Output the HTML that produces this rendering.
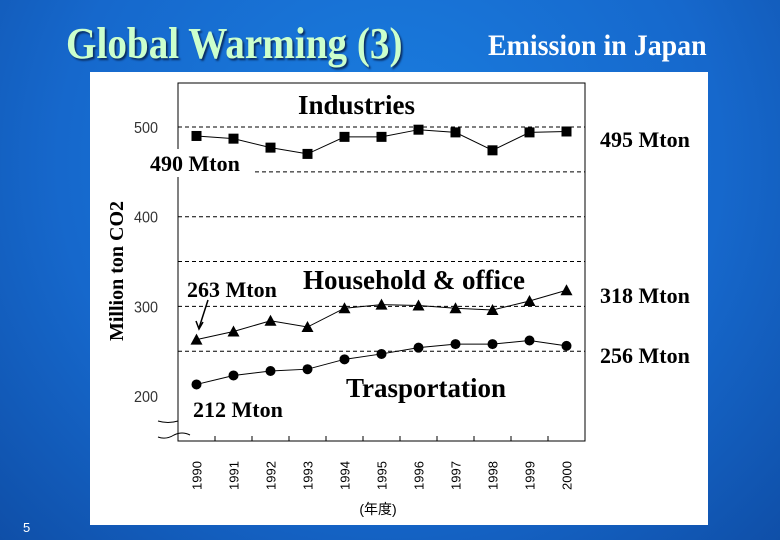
<!DOCTYPE html>
<html><head><meta charset="utf-8"><style>
body{margin:0;width:780px;height:540px;overflow:hidden;background:radial-gradient(ellipse at 50% 30%,#1a7ee0 0%,#1668cc 60%,#0f4fa8 100%);font-family:"Liberation Serif",serif;}
.t{position:absolute;white-space:nowrap}
</style></head><body>
<div class="t" style="left:66px;top:20px;font-size:44px;line-height:48px;font-weight:bold;color:#ccffcc;text-shadow:2px 2px 2px #0a2d60;transform:scaleX(0.89);transform-origin:left">Global Warming (3)</div>
<div class="t" style="left:488px;top:29px;font-size:30px;line-height:34px;font-weight:bold;color:#fff;transform:scaleX(0.93);transform-origin:left">Emission in Japan</div>
<div class="t" style="left:23px;top:520px;font-size:13px;color:#fff;font-family:'Liberation Sans',sans-serif">5</div>
<svg width="780" height="540" style="position:absolute;left:0;top:0" id="chart">
<rect x="90" y="72" width="618" height="453" fill="#fff"/>
<g id="grid"></g><g id="series"></g><g id="labels"></g>
</svg>
<script>
const years=["1990","1991","1992","1993","1994","1995","1996","1997","1998","1999","2000"];
const industries=[490,487,477,470,489,489,497,494,474,494,495];
const household=[263,272,284,277,298,302,301,298,296,306,318];
const transport=[213,223,228,230,241,247,254,258,258,262,256];
const yTicks=[200,300,400,500];
const gridVals=[250,300,350,400,450,500];
const NS="http://www.w3.org/2000/svg";
const L=178,R=585,T=83,B=441;
const bw=(R-L)/years.length;
const x=i=>L+bw*(i+0.5);
const y=v=>127+(500-v)*0.897;
function mk(tag,attrs,parent,text){const e=document.createElementNS(NS,tag);for(const k in attrs)e.setAttribute(k,attrs[k]);if(text!=null)e.textContent=text;document.getElementById(parent).appendChild(e);return e;}
gridVals.forEach(v=>{const g=mk('line',{x1:L,x2:R,y1:y(v),y2:y(v),stroke:'#000','stroke-width':1,'stroke-dasharray':'4,3'},'grid');

});
let ax=mk('path',{d:`M${L},${T}H${R}V${B}H${L}Z`,fill:'none',stroke:'#000','stroke-width':1},'grid');


for(let i=1;i<years.length;i++){const t=mk('line',{x1:L+bw*i,x2:L+bw*i,y1:B,y2:B-5,stroke:'#000'},'grid');

}
let br=mk('path',{d:`M158,421 q10,3 20,0 M158,437 q8,3 16,-2 q8,-4 16,0`,fill:'none',stroke:'#000'},'grid');


yTicks.forEach(v=>{const t=mk('text',{x:158,y:y(v)+6,'text-anchor':'end','font-family':'Liberation Sans,sans-serif','font-size':16,fill:'#333',transform:`translate(${158*0.1},0) scale(0.9,1)`},'labels',String(v));

});
years.forEach((yr,i)=>{const t=mk('text',{transform:`translate(${x(i)+5},490) rotate(-90)`,'font-family':'Liberation Sans,sans-serif','font-size':13,fill:'#000'},'labels',yr);

});
function series(vals,name,shape){
  const p=mk('polyline',{points:vals.map((v,i)=>x(i)+','+y(v)).join(' '),fill:'none',stroke:'#000','stroke-width':1},'series');
  
  
  vals.forEach((v,i)=>{let m;const cx=x(i),cy=y(v);
    if(shape==='sq')m=mk('rect',{x:cx-5,y:cy-5,width:10,height:10,fill:'#000'},'series');
    else if(shape==='tri')m=mk('path',{d:`M${cx},${cy-6}L${cx+6},${cy+5}L${cx-6},${cy+5}Z`,fill:'#000'},'series');
    else m=mk('circle',{cx:cx,cy:cy,r:5,fill:'#000'},'series');
    
    });
}
series(industries,'industries','sq');series(household,'household','tri');series(transport,'transport','dot');
function lab(txt,xx,yy,name,size,bg,w){
  if(bg){const r=mk('rect',{x:xx-4,y:yy-size,width:w,height:size+6,fill:'#fff'},'labels');
  
  }
  const t=mk('text',{x:xx,y:yy,'font-family':'Liberation Serif,serif','font-weight':'bold','font-size':size,fill:'#000'},'labels',txt);
  
  }
lab('Industries',298,114,'industries-label',27,false);
lab('490 Mton',150,171,'label-490',22,true,108);
lab('Household & office',303,289,'household-label',27,true,238);
lab('263 Mton',187,297,'label-263',22,true,88);
lab('Trasportation',346,397,'transport-label',27,true,174);
lab('212 Mton',193,417,'label-212',22,true,100);
lab('495 Mton',600,147,'label-495',22,true,112);
lab('318 Mton',600,303,'label-318',22,true,112);
lab('256 Mton',600,363,'label-256',22,true,112);
let ar=mk('path',{d:'M208,300 L199,328 M196,321 L199,329 L203,322',fill:'none',stroke:'#000','stroke-width':1.5},'labels');


let yt=mk('text',{transform:'translate(123,271) rotate(-90)','text-anchor':'middle','font-family':'Liberation Serif,serif','font-weight':'bold','font-size':20,fill:'#000'},'labels','Million ton CO2');


let xt=mk('text',{x:378,y:514,'text-anchor':'middle','font-family':'Liberation Sans,Noto Sans CJK JP,sans-serif','font-size':14,fill:'#000'},'labels','(年度)');


</script>
</body></html>
